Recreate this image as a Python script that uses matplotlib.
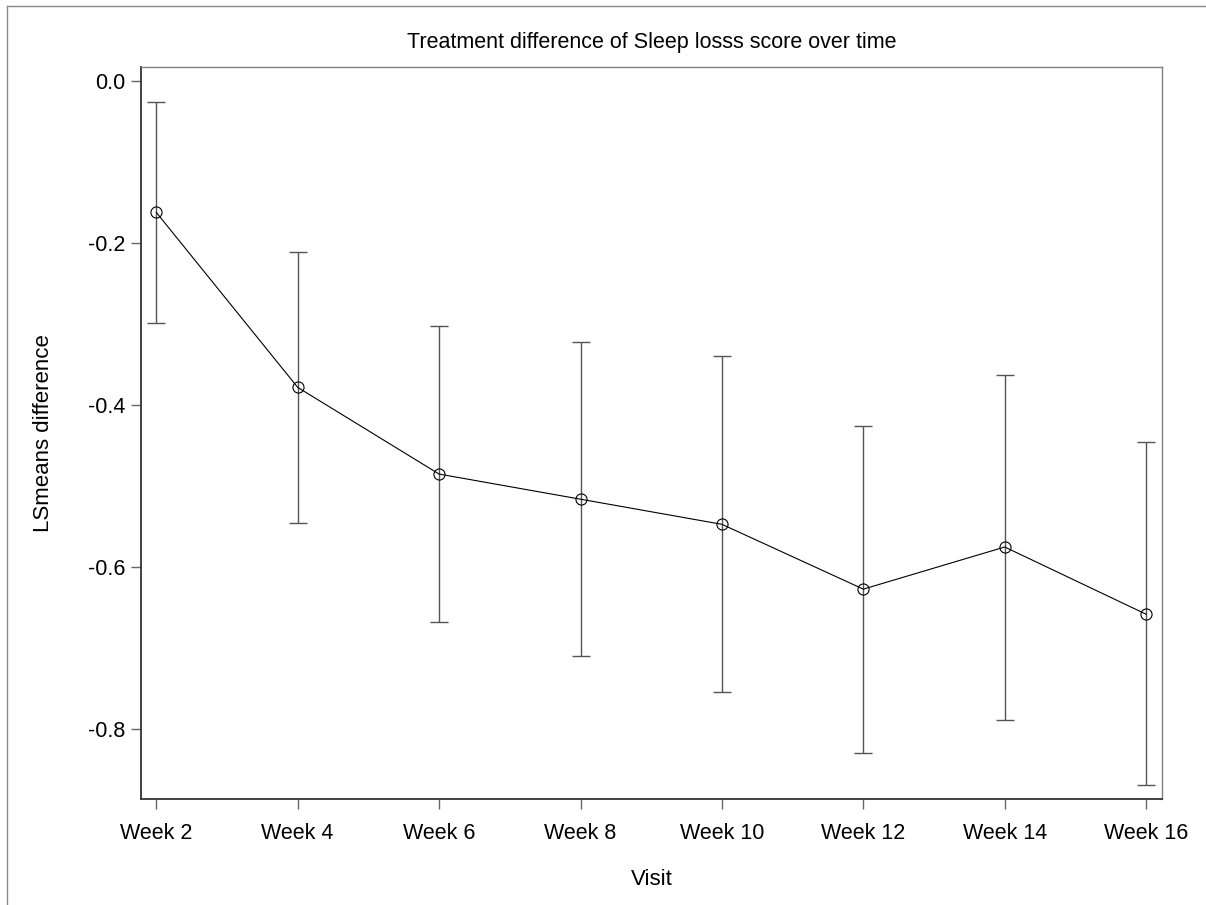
import matplotlib
matplotlib.use('Agg')
import matplotlib.pyplot as plt
import numpy as np
from matplotlib.lines import Line2D

plt.rcParams['font.family'] = ['Liberation Sans', 'DejaVu Sans']

# LS mean difference and 95% CI by visit
visits = ['Week 2', 'Week 4', 'Week 6', 'Week 8', 'Week 10', 'Week 12', 'Week 14', 'Week 16']
lsmean = [-0.162, -0.378, -0.485, -0.516, -0.547, -0.627, -0.575, -0.658]
lower = [-0.298, -0.545, -0.668, -0.709, -0.754, -0.829, -0.788, -0.869]
upper = [-0.026, -0.211, -0.302, -0.322, -0.339, -0.426, -0.363, -0.446]
yticks = [0.0, -0.2, -0.4, -0.6, -0.8]

W, H = 1206, 905
fig = plt.figure(figsize=(W / 100, H / 100), dpi=100)
ax = fig.add_axes([141 / W, 1 - 799 / H, (1162 - 141) / W, (799 - 66.5) / H])

x = np.arange(len(visits))
m = np.array(lsmean)
yerr = [m - np.array(lower), np.array(upper) - m]

ax.errorbar(x, m, yerr=yerr, fmt='none', ecolor='#555555', elinewidth=1.0,
            capsize=6.5, capthick=1.0, zorder=2)
ax.plot(x, m, color='black', lw=0.8, marker='o', markersize=8,
        markerfacecolor='none', markeredgecolor='black', markeredgewidth=0.8, zorder=3)

ax.set_xlim(-0.108, 7.112)
ax.set_ylim(-0.886, 0.018)
ax.set_xticks(x)
ax.set_xticklabels(visits)
ax.set_yticks(yticks)
ax.set_yticklabels(['%.1f' % v for v in yticks])
ax.tick_params(axis='both', labelsize=15.5, length=7.5, width=1.0, color='#666666',
               labelcolor='black', pad=4)
ax.tick_params(axis='x', pad=10)

for side in ['left', 'bottom']:
    ax.spines[side].set_color('#333333')
    ax.spines[side].set_linewidth(1.3)
for side in ['top', 'right']:
    ax.spines[side].set_color('#808080')
    ax.spines[side].set_linewidth(1.0)

ax.set_title('Treatment difference of Sleep losss score over time', fontsize=15.5, pad=13)
ax.set_xlabel('Visit', fontsize=16, labelpad=18)
ax.set_ylabel('LSmeans difference', fontsize=16, labelpad=24)

# outer frame (top and left edges only)
fig.add_artist(Line2D([7 / W, 1.0], [1 - 6 / H, 1 - 6 / H], color='#888888', lw=1.0,
                      transform=fig.transFigure))
fig.add_artist(Line2D([7 / W, 7 / W], [1 - 6 / H, 0.0], color='#888888', lw=1.0,
                      transform=fig.transFigure))

fig.savefig('out.png', dpi=100)
